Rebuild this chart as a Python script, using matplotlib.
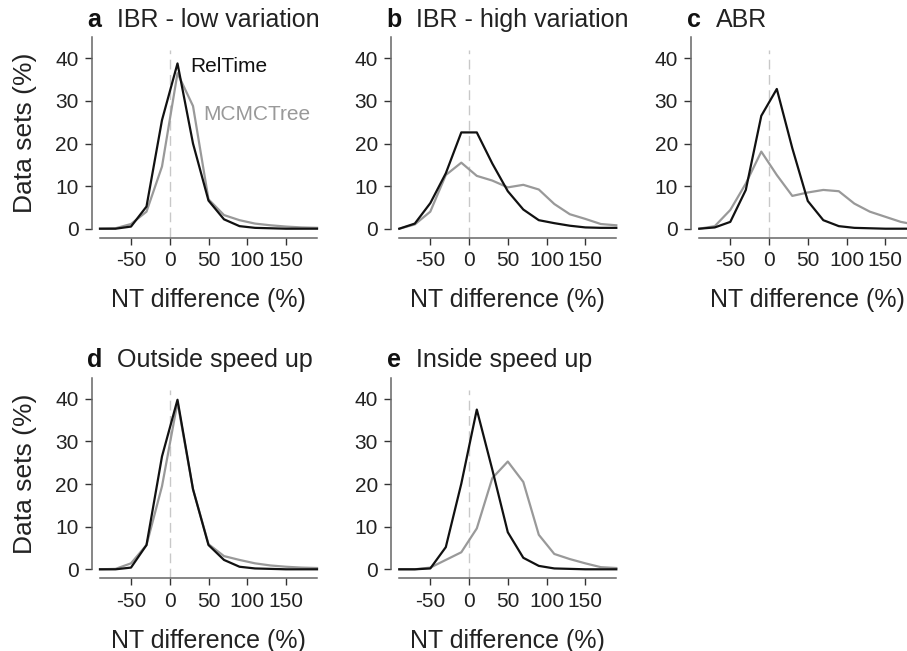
import matplotlib
matplotlib.use("Agg")
import matplotlib.pyplot as plt

plt.rcParams['font.family'] = ['Liberation Sans', 'DejaVu Sans']
plt.rcParams['axes.unicode_minus'] = False

# bin centres of NT difference (%)
nt_diff = [-90, -70, -50, -30, -10, 10, 30, 50, 70, 90, 110, 130, 150, 170, 190]

panel_letters = ['a', 'b', 'c', 'd', 'e']
panel_titles = ['IBR - low variation', 'IBR - high variation', 'ABR',
                'Outside speed up', 'Inside speed up']

reltime = [
    [0, 0, 0.5, 5.2, 25.5, 38.8, 20.0, 6.6, 2.2, 0.6, 0.2, 0.1, 0, 0, 0],
    [0, 1.2, 6.0, 13.0, 22.6, 22.6, 15.3, 8.8, 4.5, 2.0, 1.3, 0.7, 0.3, 0.2, 0.2],
    [0, 0.3, 1.6, 9.1, 26.5, 32.8, 18.9, 6.5, 2.0, 0.6, 0.2, 0.1, 0, 0, 0],
    [0, 0, 0.4, 5.7, 26.5, 39.8, 18.8, 5.7, 2.2, 0.6, 0.2, 0.1, 0, 0, 0],
    [0, 0, 0.2, 5.2, 20.1, 37.5, 23.4, 8.7, 2.7, 0.8, 0.2, 0.1, 0, 0, 0],
]
mcmctree = [
    [0, 0.1, 1.1, 4.0, 14.6, 36.5, 28.8, 6.9, 3.2, 2.0, 1.2, 0.8, 0.5, 0.3, 0.2],
    [0, 1.0, 4.0, 12.6, 15.5, 12.4, 11.3, 9.7, 10.3, 9.2, 5.8, 3.4, 2.3, 1.1, 0.8],
    [0, 0.6, 4.4, 10.6, 18.1, 12.6, 7.7, 8.5, 9.1, 8.8, 5.9, 4.0, 2.8, 1.6, 0.9],
    [0, 0.1, 1.4, 5.7, 19.5, 39.2, 18.8, 5.9, 3.1, 2.2, 1.4, 0.9, 0.6, 0.4, 0.3],
    [0, 0, 0.4, 2.2, 4.0, 9.6, 21.4, 25.3, 20.5, 8.1, 3.6, 2.4, 1.4, 0.5, 0.3],
]

W, H = 907, 651
fig = plt.figure(figsize=(W / 100, H / 100), dpi=100)

# axes boxes in pixels: left, bottom (y=0 row), width, height
lefts = [100, 399.3, 699.3, 100, 399.3]
bottoms = [228.7, 228.7, 228.7, 569.3, 569.3]
aw, ah = 217, 191.7

grey = '#999999'
for i in range(5):
    ax = fig.add_axes([lefts[i] / W, (H - bottoms[i]) / H, aw / W, ah / H])
    ax.vlines(0, -2, 42, colors='#c8c8c8', linestyles=(0, (7, 4)), lw=1, clip_on=False)
    ax.plot(nt_diff, mcmctree[i], color=grey, lw=1.6, clip_on=False)
    ax.plot(nt_diff, reltime[i], color='#111111', lw=1.6, clip_on=False)
    ax.set_xlim(-90, 190)
    ax.set_ylim(0, 45)
    ax.set_xticks([-50, 0, 50, 100, 150])
    ax.set_yticks([0, 10, 20, 30, 40])
    for s in ['top', 'right']:
        ax.spines[s].set_visible(False)
    ax.spines['left'].set_position(('outward', 6))
    ax.spines['bottom'].set_position(('outward', 6.5))
    for s in ['left', 'bottom']:
        ax.spines[s].set_color('#666666')
        ax.spines[s].set_linewidth(1.1)
    ax.tick_params(length=5, width=1, color='#333333', labelsize=15, pad=4.5,
                   labelcolor='#222222')
    ax.set_xlabel('NT difference (%)', fontsize=18, labelpad=13, color='#222222')
    if i in (0, 3):
        ax.set_ylabel('Data sets (%)', fontsize=19, labelpad=13, color='#222222')
    ax.annotate(panel_letters[i], xy=(0, 1), xycoords='axes fraction',
                xytext=(-9, 7.5), textcoords='offset points', fontsize=18,
                fontweight='bold', va='baseline', ha='left', color='#111111')
    ax.annotate(panel_titles[i], xy=(0, 1), xycoords='axes fraction',
                xytext=(12, 7.5), textcoords='offset points', fontsize=18,
                va='baseline', ha='left', color='#222222')
    if i == 0:
        ax.text(27, 38, 'RelTime', fontsize=15, color='#111111', va='center')
        ax.text(43, 26.7, 'MCMCTree', fontsize=15, color=grey, va='center')

fig.savefig('out.png', dpi=100)
